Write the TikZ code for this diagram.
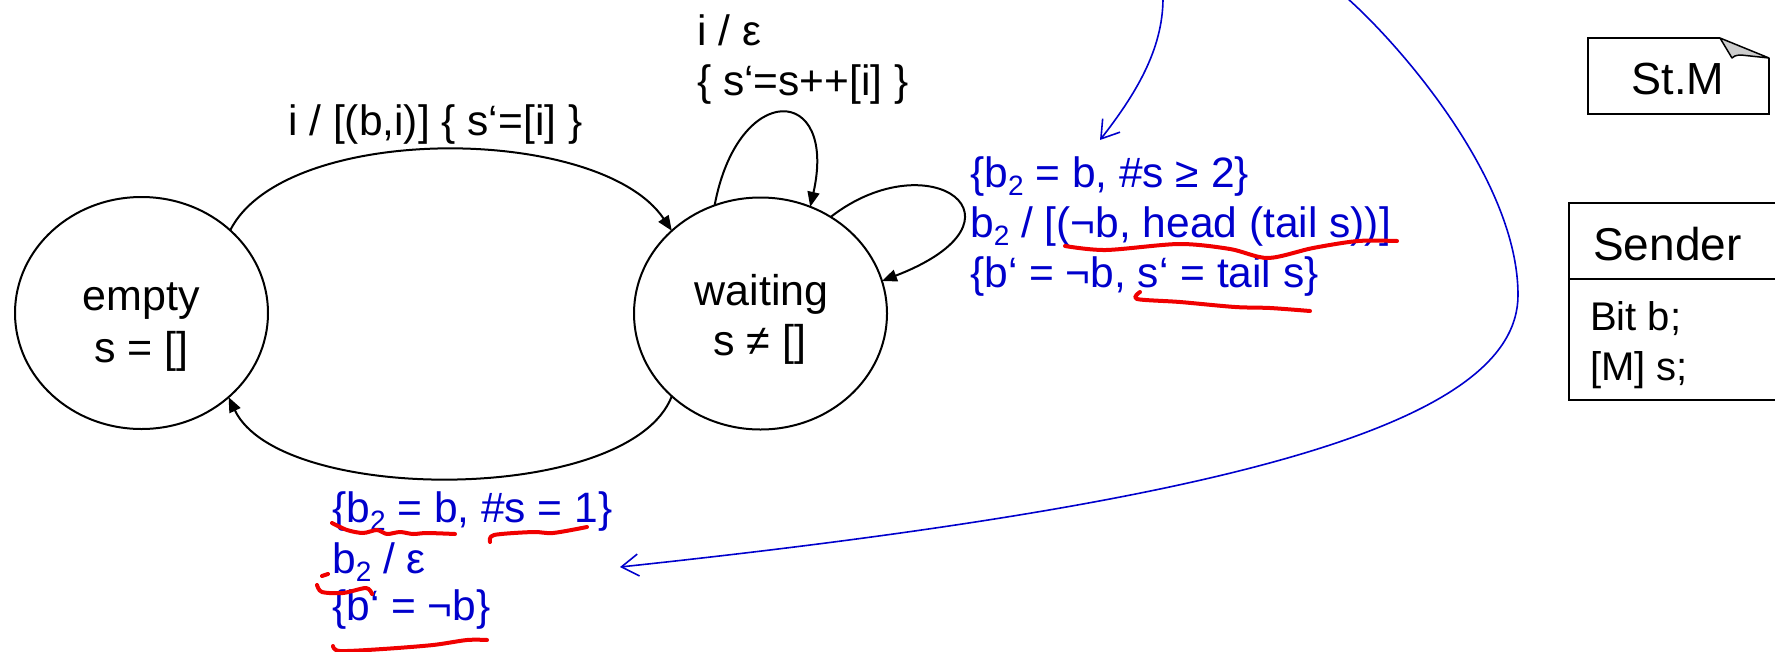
\documentclass[tikz,border=0pt]{standalone}
\usepackage{fontspec}
\setmainfont{Liberation Sans}
\usetikzlibrary{arrows.meta,shapes.geometric}
\definecolor{ublue}{RGB}{0,0,204}
\definecolor{ured}{RGB}{240,0,0}
\newcommand\subtwo{\raisebox{-8pt}{\fontsize{28}{28}\selectfont 2}}
\begin{document}
\begin{tikzpicture}[x=1pt,y=-1pt,
  state/.style={draw, line width=2pt, ellipse, minimum width=253pt, minimum height=232pt, inner sep=0pt, outer sep=0pt},
  stext/.style={font=\fontsize{43}{50}\selectfont, anchor=base, inner sep=0pt},
  ltext/.style={font=\fontsize{42.5}{50}\selectfont, anchor=base west, inner sep=0pt},
  btext/.style={ltext, text=ublue},
  trans/.style={line width=2pt, -{Triangle[length=15pt,width=12pt]}},
  bluearrow/.style={draw=ublue, line width=1.6pt, -{Straight Barb[length=17pt,width=22pt,line width=1.6pt]}},
  redmark/.style={draw=ured, line width=4pt, line cap=round, line join=round},
  boxline/.style={line width=2pt}
]
\useasboundingbox (0,0) rectangle (1775,651);
\clip (0,0) rectangle (1775,651);

% states
\node[state] (empty) at (141.5,313) {};
\node[state] (waiting) at (760.5,313.5) {};
\node[stext] (emptyA) at (141.5,310) {empty};
\node[stext] (emptyB) at (141.5,362) {s = []};
\node[stext] (waitingA) at (761.5,305) {waiting};
\node[stext] (waitingB) at (760,355) {s ≠ []};

% transitions
\draw[trans] (empty.43) .. controls (285,122) and (600,124) .. (waiting.137);
\draw[trans] (waiting.113) .. controls (738,80) and (838,84) .. (waiting.65);
\draw[trans] (waiting.54) .. controls (930,140) and (1040,220) .. (waiting.15);
\draw[trans] (waiting.223) .. controls (630,505) and (280,505) .. (empty.316);

% black labels
\node[ltext] (l1) at (288,135) {i / [(b,i)] \{ s‘=[i] \}};
\node[ltext] (l2) at (697,45) {i / ε};
\node[ltext] (l3) at (697,95) {\{ s‘=s++[i] \}};

% blue labels, top right
\node[btext] (c1) at (970,187) {\{b\subtwo{} = b, \#s ≥ 2\}};
\node[btext] (c2) at (970,237) {b\subtwo{} / [(¬b, head (tail s))]};
\node[btext] (c3) at (970,287) {\{b‘ = ¬b, s‘ = tail s\}};

% blue labels, bottom
\node[btext] (d1) at (332,522) {\{b\subtwo{} = b, \#s = 1\}};
\node[btext] (d2) at (332,573) {b\subtwo{} / ε};
\node[btext] (d3) at (332,620) {\{b‘ = ¬b\}};

% blue connectors
\coordinate (topA) at (1163,-2);
\coordinate (tipA) at (1100,140);
\coordinate (topB) at (1347,-2);
\coordinate (tipB) at (620,567);
\draw[bluearrow] (topA) .. controls (1163,50) and (1135,95) .. (tipA);
\draw[bluearrow] (topB) .. controls (1400,45) and (1518,180) .. (1518,295)
   .. controls (1518,420) and (1250,500) .. (tipB);

% red hand marks
\draw[redmark] plot[smooth] coordinates {(1065,246) (1106,250) (1179,244) (1230,249) (1268,258) (1313,248) (1358,241) (1397,241)};
\draw[redmark] plot[smooth] coordinates {(1140,292) (1137,299) (1180,302) (1235,307) (1270,308) (1310,311)};
\draw[redmark] plot[smooth] coordinates {(332,523) (347,530) (363,533) (377,530) (387,534) (400,532) (413,534) (427,533) (455,534)};
\draw[redmark] plot[smooth] coordinates {(490,542) (494,535) (533,532) (553,533) (587,527)};
\draw[redmark] (322,576) -- (328,574);
\draw[redmark] plot[smooth] coordinates {(317,585) (322,592) (343,593) (366,588) (372,594)};
\draw[redmark] plot[smooth] coordinates {(333,646) (340,651) (383,649) (433,645) (467,640) (487,640)};

% St.M note
\node[font=\fontsize{45}{45}\selectfont, anchor=base, inner sep=0pt] (stm) at (1678,94) {St.M};
\draw[boxline, line join=miter] (1720,38) -- (1588,38) -- (1588,114) -- (1769,114) -- (1769,58);
\draw[line width=1.5pt, fill=gray!40, line join=round] (1720,38) -- (1769,58) -- (1741,55) .. controls (1735,55) and (1733,57) .. (1732,58) -- cycle;

% Sender class box
\draw[boxline] (1790,203) -- (1569,203) -- (1569,400) -- (1790,400);
\draw[boxline] (1569,279) -- (1790,279);
\node[font=\fontsize{46}{46}\selectfont, anchor=base west, inner sep=0pt] (sender) at (1593,260) {Sender};
\node[font=\fontsize{40}{40}\selectfont, anchor=base west, inner sep=0pt] (attr1) at (1590,330) {Bit b;};
\node[font=\fontsize{40}{40}\selectfont, anchor=base west, inner sep=0pt] (attr2) at (1590,380) {[M] s;};
\end{tikzpicture}
\end{document}
